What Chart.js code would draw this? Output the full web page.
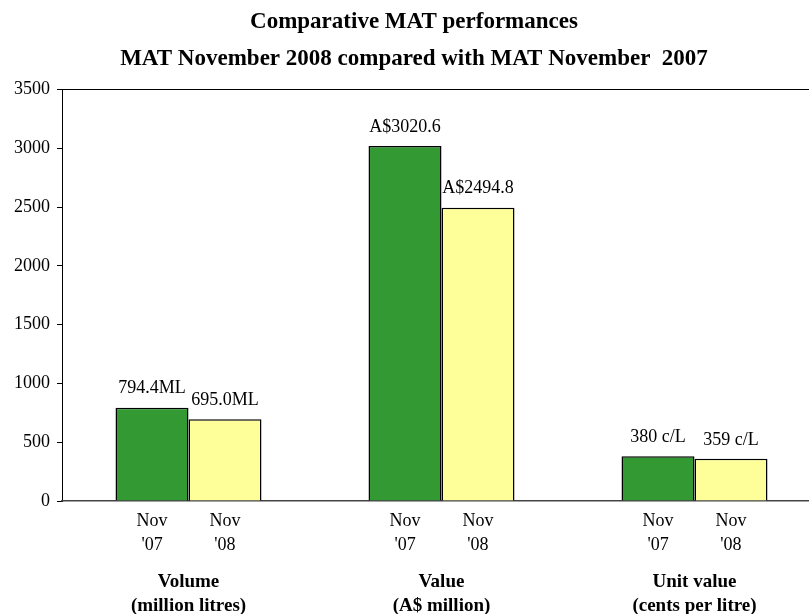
<!DOCTYPE html>
<html>
<head>
<meta charset="utf-8">
<script src="https://cdn.jsdelivr.net/npm/chart.js@4/dist/chart.umd.min.js"></script>
<style>
  html, body { margin: 0; padding: 0; background: #fff; overflow: hidden; }
  #wrap { width: 832px; height: 614px; }
</style>
</head>
<body>
<div id="wrap"><canvas id="chart" width="832" height="614"></canvas></div>
<script>
const groups = [
  ['Volume', '(million litres)'],
  ['Value', '(A$ million)'],
  ['Unit value', '(cents per litre)'],
];
const seriesNames = ["Nov '07", "Nov '08"];
const nov07 = [794.4, 3020.6, 380];
const nov08 = [695.0, 2494.8, 359];
const nov07Labels = ['794.4ML', 'A$3020.6', '380 c/L'];
const nov08Labels = ['695.0ML', 'A$2494.8', '359 c/L'];
const subLabels = [['Nov', "'07"], ['Nov', "'08"]];
const yTicks = [0, 500, 1000, 1500, 2000, 2500, 3000, 3500];

const serif = "'Liberation Serif', 'Times New Roman', serif";
const barShare = 0.577;

const valueLabels = {
  id: 'valueLabels',
  afterDatasetsDraw(chart) {
    const ctx = chart.ctx;
    const texts = [nov07Labels, nov08Labels];
    ctx.save();
    ctx.font = '18px ' + serif;
    ctx.fillStyle = '#000';
    ctx.textAlign = 'center';
    ctx.textBaseline = 'bottom';
    chart.data.datasets.forEach((ds, i) => {
      chart.getDatasetMeta(i).data.forEach((bar, j) => {
        ctx.fillText(texts[i][j], bar.x, bar.y - 10);
      });
    });
    ctx.restore();
  }
};

new Chart(document.getElementById('chart'), {
  type: 'bar',
  data: {
    labels: groups,
    datasets: [
      { label: seriesNames[0], data: nov07, backgroundColor: '#339933', borderColor: '#000', borderWidth: 1.5, borderSkipped: 'bottom' },
      { label: seriesNames[1], data: nov08, backgroundColor: '#FFFF99', borderColor: '#000', borderWidth: 1.5, borderSkipped: 'bottom' },
    ],
  },
  options: {
    responsive: false,
    animation: false,
    layout: { padding: { left: 7, right: 11, top: 4, bottom: -9 } },
    datasets: { bar: { barPercentage: 1, categoryPercentage: barShare } },
    plugins: {
      legend: { display: false },
      tooltip: { enabled: false },
      title: {
        display: true,
        text: ['Comparative MAT performances', 'MAT November 2008 compared with MAT November  2007'],
        color: '#000',
        font: { family: serif, size: 23, weight: 'bold', lineHeight: 1.6 },
        padding: { top: 0, bottom: 12 },
      },
    },
    scales: {
      y: {
        min: 0,
        max: 3500,
        afterBuildTicks: (axis) => { axis.ticks = yTicks.map((v) => ({ value: v })); },
        ticks: { color: '#000', font: { family: serif, size: 18 }, padding: 7, callback: (v) => String(v) },
        grid: {
          color: (c) => (c.tick && c.tick.value === 3500 ? '#000' : 'rgba(0,0,0,0)'),
          tickColor: '#000',
          tickLength: 5,
          lineWidth: 1,
        },
        border: { color: '#000', width: 1 },
      },
      x: {
        weight: 2,
        grid: { display: false },
        border: { display: false },
        ticks: { color: '#000', font: { family: serif, size: 19, weight: 'bold', lineHeight: 1.263 }, padding: 5 },
      },
      x2: {
        type: 'linear',
        position: 'bottom',
        weight: 1,
        offset: false,
        min: 0,
        max: 3,
        afterBuildTicks: (axis) => {
          const half = barShare / 4;
          const t = [];
          for (let g = 0; g < groups.length; g++) {
            t.push({ value: g + 0.5 - half }, { value: g + 0.5 + half });
          }
          axis.ticks = t;
        },
        afterTickToLabelConversion: (axis) => {
          axis.ticks.forEach((tk, i) => { tk.label = subLabels[i % 2]; });
        },
        ticks: { autoSkip: false, maxRotation: 0, color: '#000', font: { family: serif, size: 18, lineHeight: 1.333 }, padding: 0 },
        grid: { display: false },
        border: { color: '#444', width: 1.5 },
      },
    },
  },
  plugins: [valueLabels],
});
</script>
</body>
</html>
